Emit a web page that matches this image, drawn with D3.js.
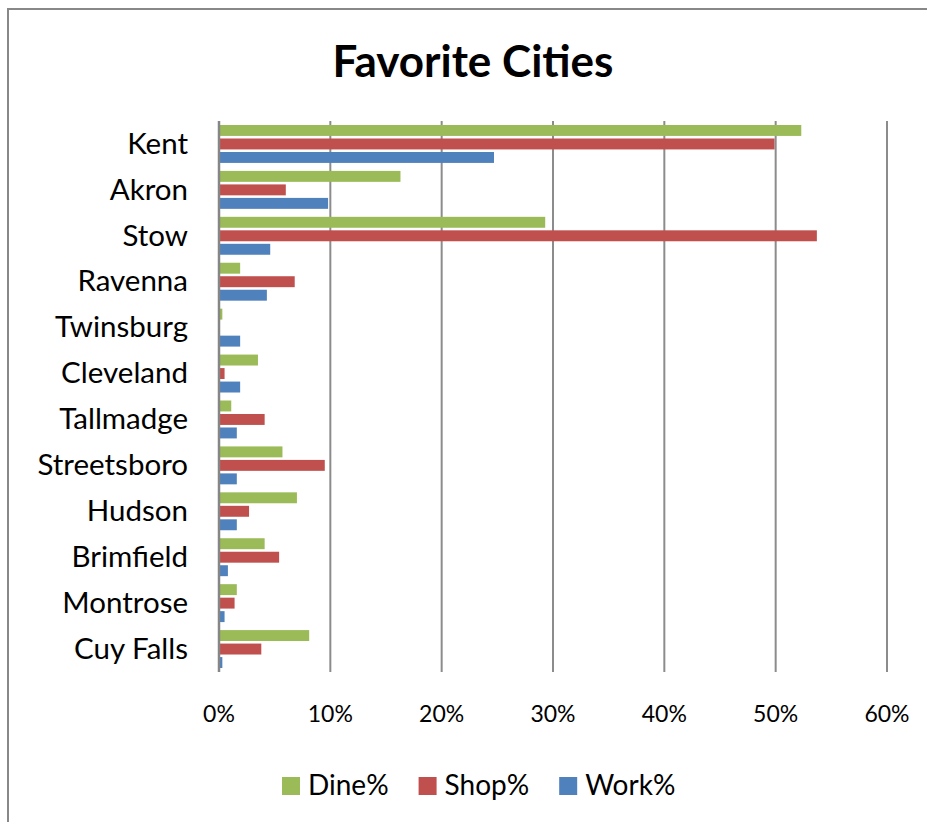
<html>
<head>
    <title>Favorite Cities</title>
    <script src="https://d3js.org/d3.v7.min.js"></script>
    <style>
        body { margin: 0; background: #fff; }
        svg { font-family: Lato, "Open Sans", sans-serif; }
        .grid line { stroke: #8c8c8c; stroke-width: 2px; }
        .title { font-size: 44px; font-weight: bold; fill: #000; }
        .cat { font-size: 29.5px; fill: #000; }
        .tick-label { font-size: 23px; fill: #000; }
        .legend-text { font-size: 28px; fill: #000; }
    </style>
</head>
<body>
<div id="chart"></div>
<script>
    // data (percent)
    var cities = ["Kent", "Akron", "Stow", "Ravenna", "Twinsburg", "Cleveland",
        "Tallmadge", "Streetsboro", "Hudson", "Brimfield", "Montrose", "Cuy Falls"];
    var seriesNames = ["Dine%", "Shop%", "Work%"];
    var dine = [52.3, 16.3, 29.3, 1.9, 0.3, 3.5, 1.1, 5.7, 7.0, 4.1, 1.6, 8.1];
    var shop = [49.9, 6.0, 53.7, 6.8, 0, 0.5, 4.1, 9.5, 2.7, 5.4, 1.4, 3.8];
    var work = [24.7, 9.8, 4.6, 4.3, 1.9, 1.9, 1.6, 1.6, 1.6, 0.8, 0.5, 0.3];
    var xTicks = [0, 10, 20, 30, 40, 50, 60];
    var colors = ["#9BBB59", "#C0504D", "#4F81BD"];

    var W = 927, H = 822;
    var plotLeft = 219, plotRight = 887, plotTop = 121, plotBottom = 672;

    var values = [dine, shop, work];
    var rows = cities.map(function(c, i) {
        return { city: c, vals: seriesNames.map(function(s, j) { return { key: s, v: values[j][i], j: j }; }) };
    });

    var x = d3.scaleLinear().domain([0, 60]).range([plotLeft, plotRight]);
    var y0 = d3.scaleBand().domain(cities).range([plotTop, plotBottom])
        .paddingInner(0.174).paddingOuter(0.087);
    var y1 = d3.scaleBand().domain(seriesNames).range([0, y0.bandwidth()]).paddingInner(0.19);

    var svg = d3.select("#chart").append("svg")
        .attr("width", W).attr("height", H);

    // outer frame (left and top edges visible)
    svg.append("path")
        .attr("d", "M8," + H + "V9H" + W)
        .attr("fill", "none").attr("stroke", "#888").attr("stroke-width", 2);

    svg.append("text")
        .attr("class", "title")
        .attr("x", 473).attr("y", 77)
        .attr("text-anchor", "middle")
        .text("Favorite Cities");

    /* gridlines */
    svg.append("g").attr("class", "grid")
        .selectAll("line").data(xTicks.slice(1)).enter()
        .append("line")
        .attr("x1", d => x(d)).attr("x2", d => x(d))
        .attr("y1", plotTop).attr("y2", plotBottom);

    /* bars */
    var groups = svg.append("g").selectAll("g.city")
        .data(rows).enter().append("g")
        .attr("class", "city")
        .attr("transform", d => "translate(0," + y0(d.city) + ")");
    groups.selectAll("rect").data(d => d.vals).enter()
        .append("rect")
        .attr("x", x(0))
        .attr("y", d => y1(d.key))
        .attr("width", d => x(d.v) - x(0))
        .attr("height", y1.bandwidth())
        .attr("fill", d => colors[d.j]);

    // zero axis
    svg.append("line")
        .attr("x1", x(0)).attr("x2", x(0))
        .attr("y1", plotTop).attr("y2", plotBottom)
        .attr("stroke", "#868686").attr("stroke-width", 2.5);

    /* category labels */
    svg.append("g").selectAll("text").data(cities).enter()
        .append("text")
        .attr("class", "cat")
        .attr("x", x(0) - 31)
        .attr("y", d => y0(d) - y0.step() * 0.087 + y0.step() / 2)
        .attr("dy", "0.33em")
        .attr("text-anchor", "end")
        .text(d => d);

    /* x tick labels */
    svg.append("g").selectAll("text").data(xTicks).enter()
        .append("text")
        .attr("class", "tick-label")
        .attr("x", d => x(d))
        .attr("y", 722)
        .attr("text-anchor", "middle")
        .text(d => d + "%");

    /* legend */
    var lx = 282;
    seriesNames.forEach(function(s, i) {
        svg.append("rect")
            .attr("x", lx).attr("y", 777)
            .attr("width", 18).attr("height", 18)
            .attr("fill", colors[i]);
        var t = svg.append("text")
            .attr("class", "legend-text")
            .attr("x", lx + 26).attr("y", 795)
            .text(s);
        lx += 26 + t.node().getComputedTextLength() + 30;
    });
</script>
</body>
</html>
